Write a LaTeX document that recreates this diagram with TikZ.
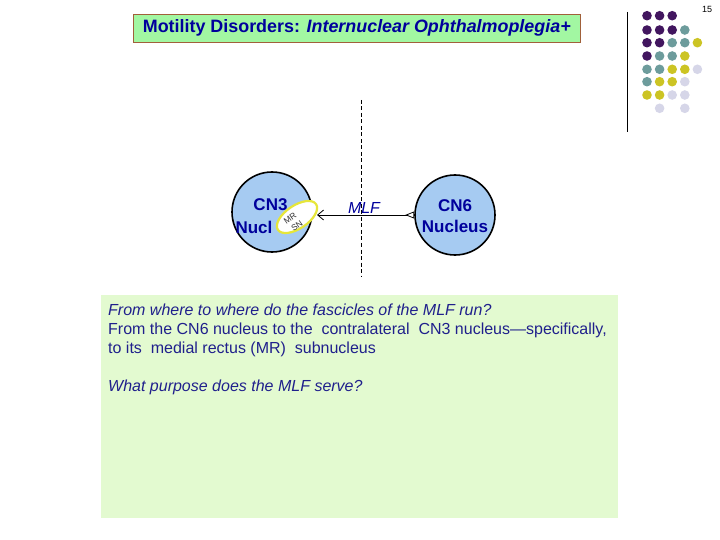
\documentclass[tikz,border=0pt]{standalone}
\usepackage{fontspec}
\setmainfont{Liberation Sans}
\usetikzlibrary{shapes.geometric,arrows.meta}
\definecolor{titlefill}{HTML}{A2F7A2}
\definecolor{titleedge}{HTML}{A0603A}
\definecolor{navy}{HTML}{00009C}
\definecolor{bodytext}{HTML}{20208C}
\definecolor{bodyfill}{HTML}{E3FAD0}
\definecolor{nucfill}{HTML}{A6CBF2}
\definecolor{snedge}{HTML}{E6E63A}
\definecolor{dpurple}{HTML}{42165F}
\definecolor{dteal}{HTML}{6D9C9C}
\definecolor{dyellow}{HTML}{CCC424}
\definecolor{dlav}{HTML}{D6D6E8}
\tikzset{
  nucleus/.style={circle, draw=black, line width=1.6pt, fill=nucfill, minimum size=80pt, inner sep=0pt},
  nuctext/.style={font=\fontsize{17}{20}\selectfont\bfseries, text=navy, inner sep=0pt},
  subnuc/.style={ellipse, draw=snedge, line width=2.2pt, fill=white, minimum width=46pt, minimum height=23pt, inner sep=0pt, rotate=34},
  tinytext/.style={font=\fontsize{8.5}{9.5}\selectfont, text=black!80, inner sep=0pt, rotate=35}
}
\newcommand{\mydot}[3]{\fill[#3] (#1,#2) circle (4.8);}
\begin{document}
\begin{tikzpicture}[x=1pt,y=-1pt]
\useasboundingbox[fill=white] (0,0) rectangle (720,540);
% title
\node[draw=titleedge, line width=0.6pt, fill=titlefill, minimum width=447pt, minimum height=28pt, anchor=north west, inner sep=0pt,
  font=\fontsize{17.9}{20}\selectfont\bfseries, text=navy] (title) at (133,14)
  {Motility Disorders: \textit{Internuclear Ophthalmoplegia+}};
% page number
\node[font=\fontsize{9}{10}\selectfont, inner sep=0pt] (pnum) at (707,9) {15};
% side line
\draw[line width=0.8pt] (627,12) -- (627,132);
% dots
\foreach \c [count=\i] in {dpurple,dpurple,dpurple}{\mydot{634.4+12.6*\i}{15.7}{\c}}
\foreach \c [count=\i] in {dpurple,dpurple,dpurple,dteal}{\mydot{634.4+12.6*\i}{30}{\c}}
\foreach \c [count=\i] in {dpurple,dpurple,dteal,dteal,dyellow}{\mydot{634.4+12.6*\i}{42.7}{\c}}
\foreach \c [count=\i] in {dpurple,dteal,dteal,dyellow}{\mydot{634.4+12.6*\i}{56}{\c}}
\foreach \c [count=\i] in {dteal,dteal,dyellow,dyellow,dlav}{\mydot{634.4+12.6*\i}{69.3}{\c}}
\foreach \c [count=\i] in {dteal,dyellow,dyellow,dlav}{\mydot{634.4+12.6*\i}{81.7}{\c}}
\foreach \c [count=\i] in {dyellow,dyellow,dlav,dlav}{\mydot{634.4+12.6*\i}{95}{\c}}
\mydot{659.6}{108.3}{dlav}
\mydot{684.8}{108.3}{dlav}
% midline
\draw[dashed, dash pattern=on 4pt off 2.5pt, line width=0.7pt] (361,100) -- (361,277);
% nuclei
\node[nucleus] (cn3) at (272,212) {};
\node[nuctext] (cn3a) at (270.5,205) {CN3};
\node[nuctext] (cn3b) at (254,227) {Nucl};
\node[subnuc] (mr) at (297,217) {};
\node[tinytext] (mrt) at (290,218) {MR};
\node[tinytext] (snt) at (297,226) {SN};
\coordinate (mrtip) at (317,215);
\node[nucleus] (cn6) at (455,215) {};
\node[nuctext, align=center] (cn6t) at (455,216) {CN6\\[1pt]Nucleus};
% MLF
\node[font=\fontsize{16}{19}\selectfont\itshape, text=navy, inner sep=0pt] (mlf) at (364,208) {MLF};
\draw[line width=0.8pt, {Triangle[open, reversed, length=9pt, width=7pt]}-{Straight Barb[length=6pt, width=10pt]}] (cn6.west) -- (mrtip);
% body box
\node[fill=bodyfill, minimum width=517pt, minimum height=223pt, anchor=north west, inner sep=0pt] (body) at (101,295) {};
\node[anchor=north west, inner sep=0pt, align=left, text=bodytext,
  font=\fontsize{16}{19}\selectfont] (bodytxt) at (108,304)
  {\textit{From where to where do the fascicles of the MLF run?}\\
   From the CN6 nucleus to the\ \ contralateral\ \ CN3 nucleus---specifically,\\
   to its\ \ medial rectus (MR)\ \ subnucleus\\[19pt]
   \textit{What purpose does the MLF serve?}};
\end{tikzpicture}
\end{document}
